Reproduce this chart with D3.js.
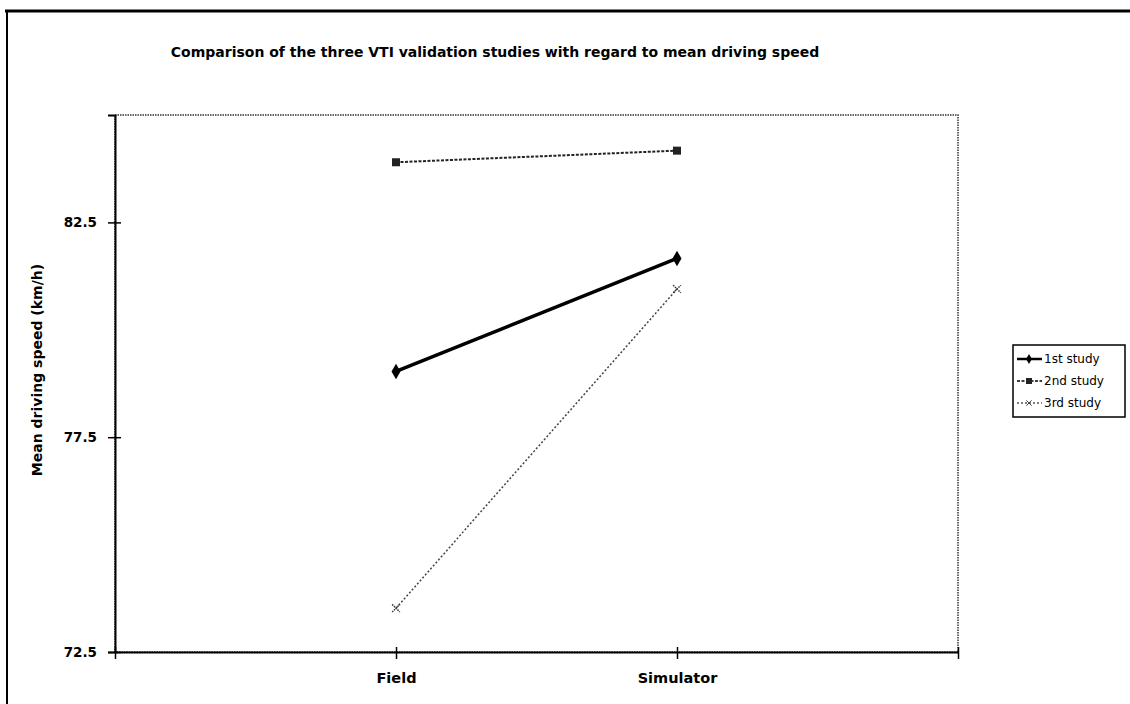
<!DOCTYPE html>
<html><head><meta charset="utf-8">
<script src="https://cdn.jsdelivr.net/npm/d3@7"></script>
<style>body{margin:0;background:#fff}svg{display:block}text{font-family:"DejaVu Sans",Arial,sans-serif;font-weight:bold}</style>
</head><body><svg id="c" width="1130" height="704"></svg>
<script>
const categories = ["", "Field", "Simulator", " "];
const study1 = [79.03, 81.66];
const study2 = [83.9, 84.17];
const study3 = [73.52, 80.95];
const yTicks = [72.5, 77.5, 82.5];
const seriesNames = ["1st study", "2nd study", "3rd study"];
const titleText = "Comparison of the three VTI validation studies with regard to mean driving speed";
const yLabel = "Mean driving speed (km/h)";

const svg = d3.select("#c");
// outer frame (top & left)
svg.append("line").attr("x1",5).attr("x2",1130).attr("y1",11).attr("y2",11).attr("stroke","#000").attr("stroke-width",3);
svg.append("line").attr("x1",7).attr("x2",7).attr("y1",10).attr("y2",704).attr("stroke","#000").attr("stroke-width",2);

const L=115,R=958,T=115,B=652;
const x = d3.scalePoint().domain(categories).range([L,R]).padding(0);
const y = d3.scaleLinear().domain([72.5,85]).range([B,T]);

// plot area dotted border
svg.append("rect").attr("x",L).attr("y",T).attr("width",R-L).attr("height",B-T)
  .attr("fill","none").attr("stroke","#333").attr("stroke-width",1.5).attr("stroke-dasharray","1.5,1");

svg.append("text").attr("x",495).attr("y",57).attr("text-anchor","middle").attr("font-size",14).text(titleText);

// y axis
const ya = svg.append("g").attr("transform",`translate(${L},0)`)
  .call(d3.axisLeft(y).tickValues(yTicks).tickFormat(d3.format(".1f")).tickSize(7).tickPadding(11));
ya.select(".domain").attr("stroke","#000").attr("stroke-width",2);
ya.selectAll(".tick line").attr("x2",-7).attr("x1",6).attr("stroke-width",1.5);
ya.selectAll("text").attr("font-size",13.5).attr("fill","#000").style("font-family","DejaVu Sans").style("font-weight","bold");

// x axis
const xa = svg.append("g").attr("transform",`translate(0,${B})`)
  .call(d3.axisBottom(x).tickSize(7).tickPadding(14).tickSizeOuter(0));
xa.select(".domain").attr("stroke","#000").attr("stroke-width",2);
xa.selectAll(".tick line").attr("y1",-5).attr("stroke-width",1.5);
xa.selectAll("text").attr("font-size",14.5).attr("fill","#000").style("font-family","DejaVu Sans").style("font-weight","bold");

svg.append("text").attr("transform","translate(42,370) rotate(-90)").attr("text-anchor","middle").attr("font-size",14).text(yLabel);

const xs = ["Field","Simulator"];
const line = d3.line().x((d,i)=>x(xs[i])).y(d=>y(d));
// series 2
svg.append("path").datum(study2).attr("d",line).attr("fill","none").attr("stroke","#222").attr("stroke-width",2).attr("stroke-dasharray","3,1.5");
// series 3
svg.append("path").datum(study3).attr("d",line).attr("fill","none").attr("stroke","#444").attr("stroke-width",1.5).attr("stroke-dasharray","2,2");
// series 1
svg.append("path").datum(study1).attr("d",line).attr("fill","none").attr("stroke","#000").attr("stroke-width",3.5);

study1.forEach((v,i)=>svg.append("path").attr("d",d3.symbol(d3.symbolDiamond,70)()).attr("transform",`translate(${x(xs[i])},${y(v)})`).attr("fill","#000"));
study2.forEach((v,i)=>svg.append("rect").attr("x",x(xs[i])-4).attr("y",y(v)-4).attr("width",8).attr("height",8).attr("fill","#222"));
study3.forEach((v,i)=>svg.append("path").attr("d",d3.symbol(d3.symbolX,40)()).attr("transform",`translate(${x(xs[i])},${y(v)})`).attr("fill","none").attr("stroke","#333").attr("stroke-width",1.5).attr("stroke-dasharray","1.5,1"));

// legend
const lg = svg.append("g").attr("transform","translate(1013,345)");
lg.append("rect").attr("x",0).attr("y",0).attr("width",112).attr("height",72).attr("fill","#fff").attr("stroke","#000").attr("stroke-width",1.5);
const styles=[{w:2.5,da:null},{w:1.5,da:"3,1.5"},{w:1,da:"2,2"}];
seriesNames.forEach((n,i)=>{
  const yy=14+i*22;
  lg.append("line").attr("x1",4).attr("x2",29).attr("y1",yy).attr("y2",yy).attr("stroke","#000").attr("stroke-width",styles[i].w).attr("stroke-dasharray",styles[i].da);
  if(i===0) lg.append("path").attr("d",d3.symbol(d3.symbolDiamond,30)()).attr("transform",`translate(16,${yy})`);
  if(i===1) lg.append("rect").attr("x",13).attr("y",yy-3).attr("width",6).attr("height",6).attr("fill","#222");
  if(i===2) lg.append("path").attr("d",d3.symbol(d3.symbolX,20)()).attr("transform",`translate(16,${yy})`).attr("fill","none").attr("stroke","#444");
  lg.append("text").attr("x",31).attr("y",yy+4).attr("font-size",12).attr("font-weight","normal").style("font-weight","normal").text(n);
});
</script></body></html>
